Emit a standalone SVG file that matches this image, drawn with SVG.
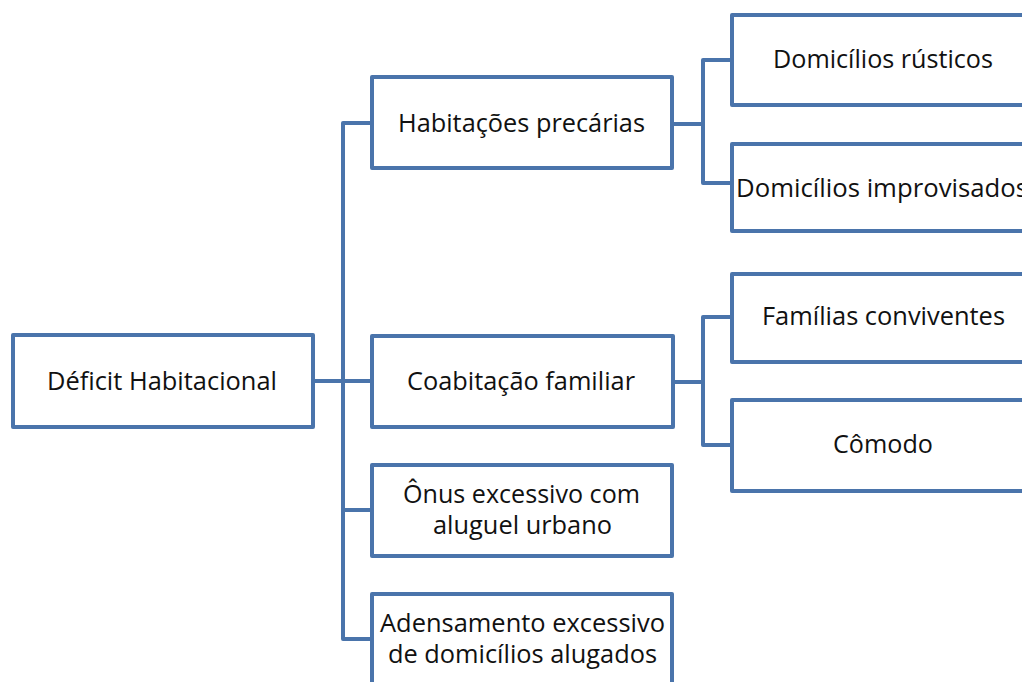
<svg xmlns="http://www.w3.org/2000/svg" width="1022" height="682" viewBox="0 0 1022 682">
<style>
.box{fill:#fff;stroke:#4a74ab;stroke-width:4;stroke-linejoin:round}
.ln{fill:none;stroke:#4a74ab;stroke-width:4;stroke-linejoin:round}
text{font-family:"Open Sans","Noto Sans",sans-serif;font-size:25px;fill:#111;text-anchor:middle}
</style>
<rect width="1022" height="682" fill="#fff"/>
<g id="connectors">
<path class="ln" d="M370,123 H343 V639 H370"/>
<path class="ln" d="M315,381 H370"/>
<path class="ln" d="M343,510 H370"/>
<path class="ln" d="M674,124 H703"/>
<path class="ln" d="M730,60 H703 V183 H730"/>
<path class="ln" d="M675,382 H703"/>
<path class="ln" d="M730,317 H703 V445 H730"/>
</g>
<g id="deficit">
<rect class="box" x="13" y="335" width="300" height="92"/>
<text x="162" y="390" textLength="230" lengthAdjust="spacingAndGlyphs">Déficit Habitacional</text>
</g>
<g id="habitacoes">
<rect class="box" x="372" y="77" width="300" height="91"/>
<text x="521.5" y="132" textLength="247" lengthAdjust="spacingAndGlyphs">Habitações precárias</text>
</g>
<g id="coabitacao">
<rect class="box" x="372" y="336" width="301" height="91"/>
<text x="521" y="390" textLength="228" lengthAdjust="spacingAndGlyphs">Coabitação familiar</text>
</g>
<g id="onus">
<rect class="box" x="372" y="465" width="300" height="91"/>
<text x="521.5" y="503" textLength="237" lengthAdjust="spacingAndGlyphs">Ônus excessivo com</text>
<text x="522.5" y="534" textLength="179" lengthAdjust="spacingAndGlyphs">aluguel urbano</text>
</g>
<g id="adensamento">
<rect class="box" x="372" y="594" width="300" height="110"/>
<text x="522.5" y="632" textLength="285" lengthAdjust="spacingAndGlyphs">Adensamento excessivo</text>
<text x="522.5" y="663" textLength="269" lengthAdjust="spacingAndGlyphs">de domicílios alugados</text>
</g>
<g id="rusticos">
<rect class="box" x="732" y="15" width="300" height="90"/>
<text x="883" y="68" textLength="220" lengthAdjust="spacingAndGlyphs">Domicílios rústicos</text>
</g>
<g id="improvisados">
<rect class="box" x="732" y="144" width="300" height="87"/>
<text x="882" y="197" textLength="292" lengthAdjust="spacingAndGlyphs">Domicílios improvisados</text>
</g>
<g id="familias">
<rect class="box" x="732" y="274" width="300" height="88"/>
<text x="883.5" y="325" textLength="243" lengthAdjust="spacingAndGlyphs">Famílias conviventes</text>
</g>
<g id="comodo">
<rect class="box" x="732" y="400" width="300" height="91"/>
<text x="883" y="453" textLength="100" lengthAdjust="spacingAndGlyphs">Cômodo</text>
</g>
</svg>
